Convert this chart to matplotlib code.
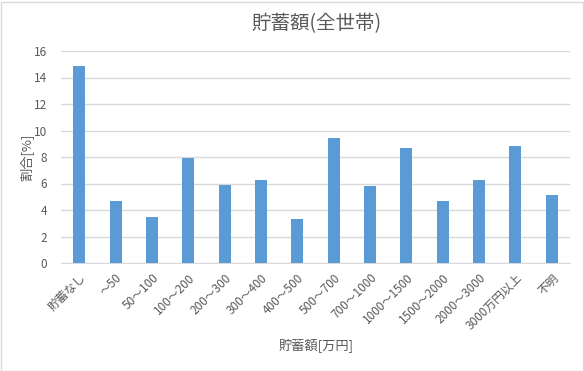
import matplotlib
matplotlib.use('Agg')
import matplotlib.pyplot as plt
from matplotlib.patches import Rectangle

categories = ['貯蓄なし', '～50', '50～100', '100～200', '200～300', '300～400',
              '400～500', '500～700', '700～1000', '1000～1500', '1500～2000',
              '2000～3000', '3000万円以上', '不明']
values = [14.9, 4.7, 3.5, 7.9, 5.9, 6.3, 3.3, 9.4, 5.8, 8.7, 4.7, 6.3, 8.8, 5.1]
yticks = [0, 2, 4, 6, 8, 10, 12, 14, 16]

plt.rcParams['font.family'] = ['Noto Sans CJK JP', 'DejaVu Sans']
text_color = '#595959'

fig = plt.figure(figsize=(5.84, 3.71), dpi=100)
ax = fig.add_axes([61 / 584, 1 - 263 / 371, 509 / 584, 212 / 371])

x = range(len(categories))
ax.bar(x, values, width=0.33, color='#5B9BD5', zorder=3)

ax.set_xlim(-0.5, len(categories) - 0.5)
ax.set_ylim(0, 16)
ax.set_yticks(yticks)
ax.set_xticks(list(x))
ax.set_xticklabels(categories, rotation=45, ha='right', rotation_mode='anchor',
                   fontsize=8.5, color=text_color)
ax.tick_params(axis='y', labelsize=8.5, labelcolor=text_color, length=0, pad=10)
ax.tick_params(axis='x', length=0, pad=6)
ax.grid(axis='y', color='#D9D9D9', linewidth=1, zorder=0)
for s in ['top', 'right', 'left']:
    ax.spines[s].set_visible(False)
ax.spines['bottom'].set_color('#D9D9D9')

fig.text(26 / 584, 1 - 157 / 371, '割合[%]', fontsize=9.5, color=text_color,
         ha='center', va='center', rotation=90)
fig.text(316 / 584, 1 - 345 / 371, '貯蓄額[万円]', fontsize=9.5, color=text_color,
         ha='center', va='center')
fig.text(316 / 584, 1 - 24 / 371, '貯蓄額(全世帯)', fontsize=14, color=text_color,
         ha='center', va='center')

fig.patches.append(Rectangle((0.5 / 584, 0.5 / 371), 582 / 584, 369 / 371,
                             transform=fig.transFigure, fill=False,
                             edgecolor='#D9D9D9', linewidth=1))

fig.savefig('out.png', dpi=100)
